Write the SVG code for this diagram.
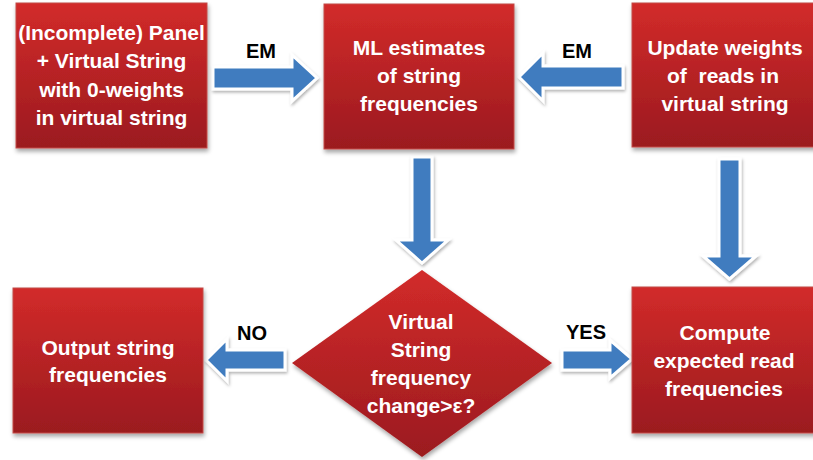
<svg xmlns="http://www.w3.org/2000/svg" width="813" height="460" viewBox="0 0 813 460">
<defs>
<linearGradient id="red" x1="0" y1="0" x2="0" y2="1">
<stop offset="0" stop-color="#d22b2a"/>
<stop offset="1" stop-color="#9b1a1f"/>
</linearGradient>
<filter id="sh" x="-10%" y="-10%" width="125%" height="125%">
<feDropShadow dx="1" dy="3" stdDeviation="2" flood-color="#000" flood-opacity="0.35"/>
</filter>
<filter id="ash" x="-20%" y="-20%" width="140%" height="140%">
<feDropShadow dx="1" dy="2" stdDeviation="1.5" flood-color="#000" flood-opacity="0.3"/>
</filter>
<style>
.box{fill:url(#red);stroke:#c24a47;stroke-width:1;filter:url(#sh)}
.t{font-family:"Liberation Sans",Arial,sans-serif;font-weight:bold;font-size:21px;fill:#fff;text-anchor:middle}
.lbl{font-family:"Liberation Sans",Arial,sans-serif;font-weight:bold;font-size:20px;fill:#000;text-anchor:middle}
.arr{fill:#3f7cbf;stroke:#fff;stroke-width:3;stroke-linejoin:miter;filter:url(#ash)}
</style>
</defs>
<rect width="813" height="460" fill="#fff"/>

<g id="connectors">
<polygon class="arr" points="213,67 292,67 292,55 317,78 292,101 292,89 213,89"/>
<polygon class="arr" points="623,66 543,66 543,53 519,77 543,101 543,88 623,88"/>
<polygon class="arr" points="412,157 432,157 432,240 448,240 422,263 396,240 412,240"/>
<polygon class="arr" points="719,159 740,159 740,256 756,256 729.5,279 703,256 719,256"/>
<polygon class="arr" points="285,350 227,350 227,339 206,360 227,381 227,370 285,370"/>
<polygon class="arr" points="562,350 610,350 610,340 632,359 610,378 610,370 562,370"/>
<text class="lbl" x="261" y="58">EM</text>
<text class="lbl" x="577" y="58">EM</text>
<text class="lbl" x="252" y="340">NO</text>
<text class="lbl" x="586" y="339">YES</text>
</g>

<g id="node-panel">
<rect class="box" x="16" y="3" width="191" height="145"/>
<text class="t" x="111.5" y="40">(Incomplete) Panel</text>
<text class="t" x="111.5" y="68">+ Virtual String</text>
<text class="t" x="111.5" y="97">with 0-weights</text>
<text class="t" x="111.5" y="125">in virtual string</text>
</g>

<g id="node-ml">
<rect class="box" x="324" y="4" width="190" height="145"/>
<text class="t" x="419" y="55">ML estimates</text>
<text class="t" x="419" y="83">of string</text>
<text class="t" x="419" y="111">frequencies</text>
</g>

<g id="node-update">
<rect class="box" x="632" y="3" width="186" height="144"/>
<text class="t" x="725" y="55">Update weights</text>
<text class="t" x="723" y="83" xml:space="preserve">of  reads in</text>
<text class="t" x="725" y="111">virtual string</text>
</g>

<g id="node-decision">
<polygon points="422,270 552,363 422,457 292,363" fill="url(#red)" filter="url(#sh)"/>
<text class="t" x="421" y="329">Virtual</text>
<text class="t" x="421" y="357">String</text>
<text class="t" x="421" y="385">frequency</text>
<text class="t" x="421" y="413">change&gt;ε?</text>
</g>

<g id="node-output">
<rect class="box" x="13" y="288" width="190" height="145"/>
<text class="t" x="108" y="355">Output string</text>
<text class="t" x="108" y="382">frequencies</text>
</g>

<g id="node-compute">
<rect class="box" x="632" y="287" width="186" height="146"/>
<text class="t" x="725" y="340">Compute</text>
<text class="t" x="724" y="368">expected read</text>
<text class="t" x="724" y="396">frequencies</text>
</g>
</svg>
